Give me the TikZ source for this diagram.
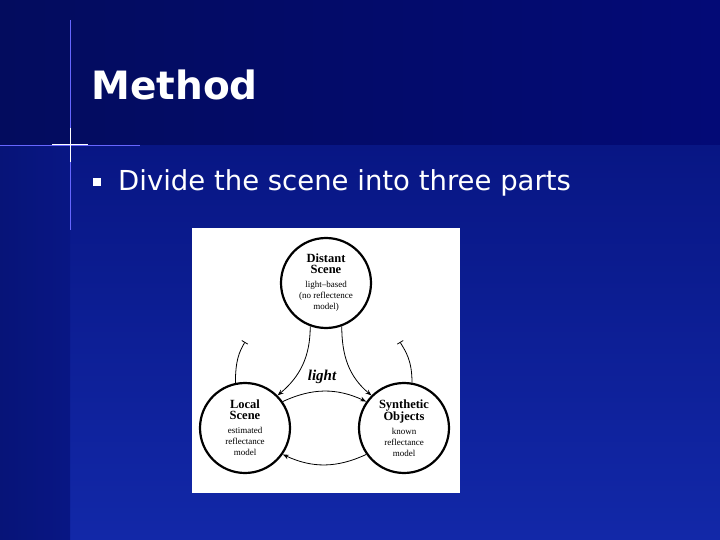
\documentclass[tikz,border=0pt]{standalone}
\usepackage{fontspec}
\setmainfont{Liberation Serif}
\newfontfamily\vfont{DejaVu Sans}
\usetikzlibrary{arrows.meta}
\definecolor{band}{HTML}{030C5E}
\definecolor{bgtop}{HTML}{081684}
\definecolor{bgbot}{HTML}{1228A8}
\definecolor{strip}{HTML}{071478}
\newcommand{\hdr}[1]{{\bfseries\fontsize{12.5}{14}\selectfont #1}}
\begin{document}
\begin{tikzpicture}[x=1pt,y=-1pt,
  circ/.style={circle,draw=black,line width=2.2pt,fill=white,minimum size=90pt,inner sep=0pt,align=center,font=\fontsize{9}{11}\selectfont},
  conn/.style={black,line width=0.8pt,-{Stealth[length=6pt,width=4.5pt]}},
  up/.style={black,line width=0.8pt,-{Bar[width=7pt]}}]
\useasboundingbox (0,0) rectangle (720,540);
\shade[top color=bgtop,bottom color=bgbot] (0,145) rectangle (720,540);
\shade[left color=strip,right color=bgtop] (0,145) rectangle (70,540);
\shade[left color=band,right color=band!85!blue] (0,0) rectangle (720,145);
\draw[white!40!blue,line width=0.6pt] (70,20) -- (70,230);
\draw[white!40!blue,line width=0.6pt] (0,145) -- (140,145);
\draw[white,line width=1pt] (70,128) -- (70,162);
\draw[white,line width=1pt] (52,145) -- (88,145);
\node[anchor=base west,text=white,font=\vfont\bfseries\fontsize{39}{48}\selectfont] (title) at (88,100) {Method};
\node[fill=white,minimum size=8pt,inner sep=0pt] (bul) at (97,182) {};
\node[anchor=base west,text=white,font=\vfont\fontsize{27.5}{32}\selectfont,inner sep=0pt] (txt) at (118,191) {Divide the scene into three parts};
\node[fill=white,minimum width=268pt,minimum height=265pt,inner sep=0pt] (img) at (326,360.5) {};
\node[circ] (d) at (326,283) {\hdr{Distant}\\\hdr{Scene}\\[3pt]light--based\\(no reflectence\\model)};
\node[circ] (l) at (245,428) {\hdr{Local}\\\hdr{Scene}\\[3pt]estimated\\reflectance\\model};
\node[circ] (s) at (404,428) {\hdr{Synthetic}\\\hdr{Objects}\\[3pt]known\\reflectance\\model};
\node[font=\bfseries\itshape\fontsize{15}{17}\selectfont] (lt) at (322,377) {light};
\draw[conn] (d.-110) to[out=-90,in=40] (l.45);
\draw[conn] (d.-70) to[out=-90,in=140] (s.135);
\draw[conn] (l.35) to[bend left=25] (s.145);
\draw[conn] (s.-145) to[bend left=25] (l.-35);
\coordinate (lu) at (245,342);
\coordinate (su) at (400,342);
\draw[up] (l.102) .. controls +(0,-22) and +(-6,10) .. (lu);
\draw[up] (s.80) .. controls +(0,-22) and +(6,10) .. (su);
\end{tikzpicture}
\end{document}
